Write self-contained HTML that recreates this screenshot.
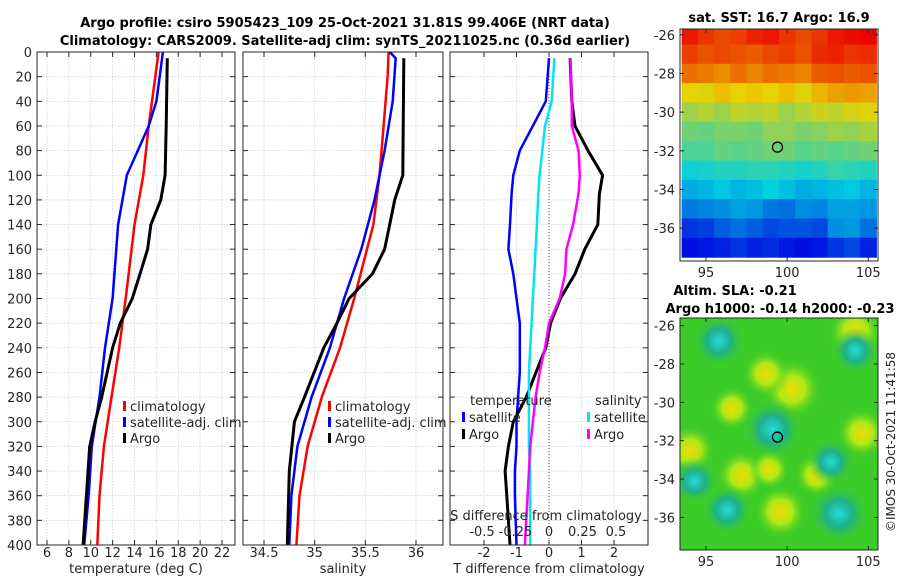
<!DOCTYPE html>
<html><head><meta charset="utf-8"><style>
body{margin:0;background:#fff;width:900px;height:580px;overflow:hidden}
svg{font-family:"DejaVu Sans","Liberation Sans",sans-serif}
</style></head><body>
<svg id="c" width="900" height="580" xmlns="http://www.w3.org/2000/svg"></svg>
<script>
// ---- data ----
const depthTicks=[0,20,40,60,80,100,120,140,160,180,200,220,240,260,280,300,320,340,360,380,400];
const tTicks=[6,8,10,12,14,16,18,20,22];
const sTicks=[34.5,35,35.5,36];
const tdTicks=[-2,-1,0,1,2];
const sdTicks=[-0.5,-0.25,0,0.25,0.5];
const sdTickLabels=["-0.5","-0.25","0","0.25","0.5"];
const climDepth=[0,20,60,100,140,200,240,280,320,360,400];
const climT=[16.2,15.9,15.3,14.8,14.0,13.2,12.6,11.9,11.2,10.8,10.6];
const satDepth=[0,20,40,60,80,100,140,200,240,280,320,360,400];
const satT=[16.6,16.3,16.0,15.3,14.3,13.3,12.5,12.0,11.3,10.8,10.1,9.8,9.4];
const argoDepth=[5,60,100,120,140,160,180,200,220,240,280,300,320,360,400];
const argoT=[17.0,16.9,16.8,16.4,15.5,15.2,14.5,13.8,12.7,12.0,11.0,10.4,9.9,9.6,9.3];
const climS=[35.73,35.72,35.68,35.64,35.58,35.39,35.25,35.07,34.93,34.85,34.82];
const satSDepth=[0,5,40,80,120,160,200,240,280,320,360,400];
const satS=[35.74,35.80,35.77,35.69,35.59,35.46,35.29,35.15,34.97,34.83,34.77,34.75];
const argoSDepth=[5,100,120,140,160,180,200,220,240,280,300,340,400];
const argoS=[35.88,35.87,35.79,35.74,35.69,35.57,35.34,35.22,35.09,34.90,34.80,34.75,34.73];
const dDepth=[5,40,60,80,100,115,140,160,180,200,220,240,260,280,300,320,340,360,400];
const satTd=[0,-0.1,-0.5,-0.9,-1.1,-1.15,-1.2,-1.25,-1.1,-1.0,-0.9,-0.9,-0.9,-0.95,-1.0,-1.0,-1.05,-1.05,-1.0];
const argoTd=[0.65,0.7,0.8,1.2,1.65,1.55,1.5,1.1,0.8,0.35,0.05,-0.1,-0.4,-0.7,-1.1,-1.25,-1.35,-1.3,-1.2];
const satSd=[0.04,0.02,-0.03,-0.05,-0.07,-0.08,-0.09,-0.1,-0.11,-0.12,-0.13,-0.14,-0.15,-0.15,-0.15,-0.15,-0.14,-0.14,-0.14];
const argoSd=[0.16,0.17,0.17,0.22,0.23,0.22,0.18,0.13,0.12,0.08,0.0,-0.03,-0.07,-0.1,-0.12,-0.14,-0.15,-0.16,-0.18];
const sstLats=[-26,-27,-28,-29,-30,-31,-32,-33,-34,-35,-36,-37];
const sstLons=[94,95,96,97,98,99,100,101,102,103,104,105];
const sst=[
[19.5,19.2,19.0,19.1,19.4,19.5,19.2,19.0,19.2,19.5,19.6,19.7],
[19.1,18.9,19.0,18.9,18.8,19.0,19.1,18.9,19.3,19.4,19.2,19.3],
[18.6,18.5,18.3,18.6,18.4,18.6,18.5,18.4,18.8,18.9,18.8,18.9],
[17.6,17.5,17.8,17.6,17.7,17.6,17.8,17.5,17.9,18.1,18.2,18.1],
[16.9,17.1,16.9,17.2,17.1,17.2,16.9,17.1,17.3,17.2,17.4,17.5],
[16.5,16.4,16.6,16.6,16.5,16.8,16.8,16.6,16.7,16.9,16.8,17.0],
[16.2,16.2,16.4,16.3,16.4,16.5,16.5,16.3,16.4,16.3,16.4,16.5],
[15.6,15.7,15.8,15.8,15.9,15.9,15.8,15.7,15.8,16.0,15.9,15.8],
[15.1,15.2,15.4,15.2,15.3,15.5,15.3,15.1,15.2,15.3,15.4,15.2],
[14.6,14.7,14.8,15.0,14.9,14.6,14.5,14.8,14.7,15.0,15.0,14.9],
[13.9,14.0,14.3,14.5,14.3,14.1,14.2,14.2,14.1,14.8,14.9,14.5],
[13.5,13.6,13.7,13.9,13.7,13.8,13.6,13.5,13.6,13.9,14.1,13.7]];
const blobLon=[100.3,104.2,97.2,94.0,104.6,99.6,98.7,96.6,101.8,99.1,103.2,96.3,102.7,94.3,95.8,104.2,98.9];
const blobLat=[-29.3,-26.3,-33.8,-32.5,-31.6,-35.7,-28.5,-30.3,-33.8,-31.4,-35.8,-35.6,-33.1,-34.1,-26.8,-27.3,-33.5];
const blobVal=[1,0.8,0.7,0.7,0.7,0.8,0.6,0.5,0.5,-1,-1,-0.7,-0.6,-0.6,-0.8,-0.6,0.4];
// ---- helpers ----
const NS="http://www.w3.org/2000/svg",svg=document.getElementById('c');
function el(t,a,p){const e=document.createElementNS(NS,t);for(const k in a)e.setAttribute(k,a[k]);(p||svg).appendChild(e);return e;}
function txt(x,y,s,a,p){const e=el('text',Object.assign({x:x,y:y,'font-size':13,fill:'#262626'},a||{}),p);e.textContent=s;return e;}
const Y0=52,Y1=545;const yD=d=>Y0+(Y1-Y0)*d/400;
function lin(d0,d1,r0,r1){return v=>r0+(v-d0)/(d1-d0)*(r1-r0);}
function panel(name,x0,x1,xs,ticks,labels,showY){
 const g=el('g',{});
 ticks.forEach(t=>{el('line',{x1:xs(t),x2:xs(t),y1:Y0,y2:Y1,stroke:'#b8c4dc','stroke-width':0.6,'stroke-dasharray':'1.5,1.5'},g);});
 depthTicks.forEach(d=>{el('line',{x1:x0,x2:x1,y1:yD(d),y2:yD(d),stroke:'#b8c4dc','stroke-width':0.6,'stroke-dasharray':'1.5,1.5'},g);
  el('line',{x1:x0,x2:x0+5,y1:yD(d),y2:yD(d),stroke:'#262626'},g);el('line',{x1:x1-5,x2:x1,y1:yD(d),y2:yD(d),stroke:'#262626'},g);
  if(showY){const l=txt(x0-5,yD(d)+5,String(d),{'text-anchor':'end'},g);}});
 ticks.forEach((t,i)=>{el('line',{x1:xs(t),x2:xs(t),y1:Y1,y2:Y1-5,stroke:'#262626'},g);el('line',{x1:xs(t),x2:xs(t),y1:Y0,y2:Y0+5,stroke:'#262626'},g);
  if(labels){const l=txt(xs(t),Y1+12,labels[i],{'text-anchor':'middle'},g);}});
 return g;}
function line(g,xs,vals,ds,col,name,w,dash){const pts=vals.map((v,i)=>xs(v).toFixed(1)+','+yD(ds[i]).toFixed(1)).join(' ');
 const p=el('polyline',{points:pts,fill:'none',stroke:col,'stroke-width':w||2.5,'stroke-linejoin':'round'},g);if(dash)p.setAttribute('stroke-dasharray',dash);
 }
function frame(x0,x1){el('rect',{x:x0,y:Y0,width:x1-x0,height:Y1-Y0,fill:'none',stroke:'#262626','stroke-width':1});}
function leg(x,y,col,s){el('rect',{x:x,y:y-9,width:3,height:10,fill:col});const t=txt(x+7,y+1,s,{},undefined);}
// titles
const t1=txt(345,27,"Argo profile: csiro 5905423_109 25-Oct-2021 31.81S 99.406E (NRT data)",{'text-anchor':'middle','font-weight':'bold',fill:'#000'});

const t2=txt(345,45,"Climatology: CARS2009. Satellite-adj clim: synTS_20211025.nc (0.36d earlier)",{'text-anchor':'middle','font-weight':'bold',fill:'#000'});

// panel 1
const xT=lin(6,22,47,222);
let g1=panel('temperature-panel',37,235,xT,tTicks,tTicks.map(String),true);
line(g1,xT,climT,climDepth,'#ff0000','climatology-temperature-line');
line(g1,xT,satT,satDepth,'#0000ff','satellite-temperature-line');
line(g1,xT,argoT,argoDepth,'#000','argo-temperature-line',3);
frame(37,235);
let xl=txt(136,573,"temperature (deg C)",{'text-anchor':'middle'});
leg(123,410,'#f00','climatology');leg(123,426,'#00f','satellite-adj. clim');leg(123,442,'#000','Argo');
// panel 2
const xS=lin(34.5,36,264,416);
let g2=panel('salinity-panel',243,443,xS,sTicks,sTicks.map(String),false);
line(g2,xS,climS,climDepth,'#ff0000','climatology-salinity-line');
line(g2,xS,satS,satSDepth,'#0000ff','satellite-salinity-line');
line(g2,xS,argoS,argoSDepth,'#000','argo-salinity-line',3);
frame(243,443);
xl=txt(343,573,"salinity",{'text-anchor':'middle'});
leg(328,410,'#f00','climatology');leg(328,426,'#00f','satellite-adj. clim');leg(328,442,'#000','Argo');
// panel 3
const xTd=lin(-2,2,484,614),xSd=lin(-0.5,0.5,482,616);
let g3=panel('difference-panel',450,648,xTd,tdTicks,tdTicks.map(String),false);
el('line',{x1:xTd(0),x2:xTd(0),y1:Y0,y2:Y1,stroke:'#555','stroke-width':1,'stroke-dasharray':'1,2'},g3);
line(g3,xTd,satTd,dDepth,'#0000ff','satellite-temperature-diff-line');
line(g3,xTd,argoTd,dDepth,'#000','argo-temperature-diff-line',3);
line(g3,xSd,satSd,dDepth,'#00e5ee','satellite-salinity-diff-line');
line(g3,xSd,argoSd,dDepth,'#ff00ff','argo-salinity-diff-line');
frame(450,648);
xl=txt(549,573,"T difference from climatology",{'text-anchor':'middle'});
xl=txt(546,520,"S difference from climatology",{'text-anchor':'middle'});
sdTicks.forEach((s,i)=>{const l=txt(xSd(s),536,sdTickLabels[i],{'text-anchor':'middle'});});
txt(470,405,"temperature");txt(595,405,"salinity");
leg(462,421,'#00f','satellite');leg(462,438,'#000','Argo');leg(587,421,'#00e5ee','satellite');leg(587,438,'#f0f','Argo');
// maps
function jet(f){f=Math.max(0,Math.min(1,f));const r=Math.min(1,Math.max(0,1.5-Math.abs(4*f-3))),g=Math.min(1,Math.max(0,1.5-Math.abs(4*f-2))),b=Math.min(1,Math.max(0,1.5-Math.abs(4*f-1)));return `rgb(${r*235|0},${g*210|0},${b*225|0})`;}
function mapAxes(name,x0,x1,y0,y1,lonA,latA){const g=el('g',{});
 const xl=lin(lonA[0],lonA[1],x0,x1),yl=lin(latA[0],latA[1],y0,y1);return {g,xl,yl};}
function mapFrame(m,x0,x1,y0,y1){el('rect',{x:x0,y:y0,width:x1-x0,height:y1-y0,fill:'none',stroke:'#262626'},m.g);
 [95,100,105].forEach(l=>{el('line',{x1:m.xl(l),x2:m.xl(l),y1:y1,y2:y1-4,stroke:'#262626'},m.g);el('line',{x1:m.xl(l),x2:m.xl(l),y1:y0,y2:y0+4,stroke:'#262626'},m.g);txt(m.xl(l),y1+16,String(l),{'text-anchor':'middle'},m.g);});
 [-26,-28,-30,-32,-34,-36].forEach(l=>{el('line',{x1:x0,x2:x0+4,y1:m.yl(l),y2:m.yl(l),stroke:'#262626'},m.g);el('line',{x1:x1,x2:x1-4,y1:m.yl(l),y2:m.yl(l),stroke:'#262626'},m.g);txt(x0-5,m.yl(l)+5,String(l),{'text-anchor':'end'},m.g);});}
// map 1
let m1=mapAxes('sst-map',680,878,29,261,[93.4,105.6],[-25.7,-37.7]);
const defs=el('defs',{});el('clipPath',{id:'cp1'},defs).appendChild(el('rect',{x:680,y:29,width:198,height:232},defs));
const cg1=el('g',{'clip-path':'url(#cp1)'},m1.g);
sstLats.forEach((la,i)=>sstLons.forEach((lo,j)=>{const x=m1.xl(lo-0.5),y=m1.yl(la+0.5);
 const r=el('rect',{x:x.toFixed(1),y:y.toFixed(1),width:(m1.xl(lo+0.5)-x+0.6).toFixed(1),height:(m1.yl(la-0.5)-y+0.6).toFixed(1),fill:jet((sst[i][j]-12.3)/(20.8-12.3))},cg1);
 }));
mapFrame(m1,680,878,29,261);
el('circle',{cx:m1.xl(99.406),cy:m1.yl(-31.81),r:5,fill:'none',stroke:'#000','stroke-width':1.3},m1.g);
let mt=txt(779,22,"sat. SST: 16.7 Argo: 16.9",{'text-anchor':'middle','font-weight':'bold',fill:'#000'});
// map 2
let m2=mapAxes('sla-map',680,878,318,550,[93.4,105.6],[-25.6,-37.7]);
el('clipPath',{id:'cp2'},defs).appendChild(el('rect',{x:680,y:318,width:198,height:232},defs));
const gY=el('radialGradient',{id:'gy'},defs);el('stop',{offset:'0','stop-color':'#f0dc00'},gY);el('stop',{offset:'0.45','stop-color':'#b0e818'},gY);el('stop',{offset:'1','stop-color':'#3ccc28','stop-opacity':0},gY);
const gC=el('radialGradient',{id:'gc'},defs);el('stop',{offset:'0','stop-color':'#20dcdc'},gC);el('stop',{offset:'0.45','stop-color':'#20b08c'},gC);el('stop',{offset:'1','stop-color':'#3ccc28','stop-opacity':0},gC);
const cg2=el('g',{'clip-path':'url(#cp2)'},m2.g);
el('rect',{x:680,y:318,width:198,height:232,fill:'#3ccc28'},cg2);
blobLon.forEach((lo,i)=>{const c=el('circle',{cx:m2.xl(lo),cy:m2.yl(blobLat[i]),r:(14+16*Math.abs(blobVal[i])).toFixed(1),fill:blobVal[i]>0?'url(#gy)':'url(#gc)'},cg2);
 });
mapFrame(m2,680,878,318,550);
el('circle',{cx:m2.xl(99.406),cy:m2.yl(-31.81),r:5,fill:'none',stroke:'#000','stroke-width':1.3},m2.g);
mt=txt(735,295,"Altim. SLA: -0.21",{'text-anchor':'middle','font-weight':'bold',fill:'#000'});
mt=txt(780,313,"Argo h1000: -0.14 h2000: -0.23",{'text-anchor':'middle','font-weight':'bold',fill:'#000'});
mt=txt(0,0,"©IMOS 30-Oct-2021 11:41:58",{'text-anchor':'middle','transform':'translate(895,442) rotate(-90)','font-size':12});
</script>
</body></html>
